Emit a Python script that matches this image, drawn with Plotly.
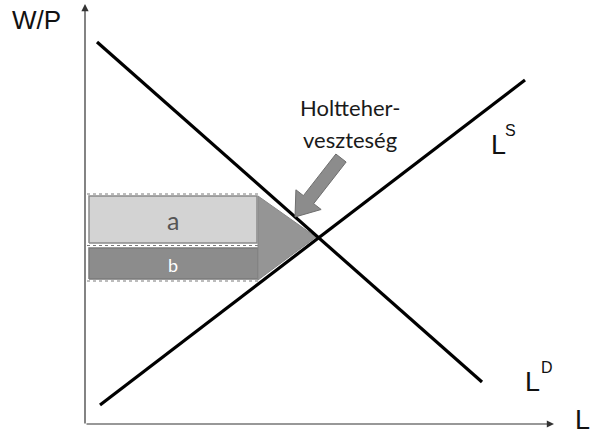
import math
import plotly.graph_objects as go

# Data (diagram units: x = labour L, y = real wage W/P)
demand_L = [12, 397]
demand_W = [382, 42]
supply_L = [15, 440]
supply_W = [19, 344]

# area a (light), area b (dark), deadweight-loss triangle
area_a_L = [4, 172, 172, 4, 4]
area_a_W = [181, 181, 228, 228, 181]
area_b_L = [4, 173, 173, 4, 4]
area_b_W = [145, 145, 176, 176, 145]
dwl_L = [173, 231, 173, 173]
dwl_W = [228, 187, 144, 228]

# arrow pointing to deadweight loss
arrow_from = (256, 266)
arrow_to = (210, 207)

fig = go.Figure()

# dashed guide lines around the areas
for yv in [230, 178.5, 143]:
    fig.add_trace(go.Scatter(x=[2, 175], y=[yv, yv], mode="lines",
                             line=dict(color="#7a7a7a", width=1, dash="dot"),
                             hoverinfo="skip", showlegend=False))

fig.add_trace(go.Scatter(x=area_a_L, y=area_a_W, fill="toself", mode="lines",
                         fillcolor="#d3d3d3", line=dict(color="#8a8a8a", width=1.5),
                         showlegend=False, hoverinfo="skip"))
fig.add_trace(go.Scatter(x=area_b_L, y=area_b_W, fill="toself", mode="lines",
                         fillcolor="#8c8c8c", line=dict(color="#7a7a7a", width=1.5),
                         showlegend=False, hoverinfo="skip"))
fig.add_trace(go.Scatter(x=dwl_L, y=dwl_W, fill="toself", mode="lines",
                         fillcolor="#959595", line=dict(color="#888888", width=1),
                         showlegend=False, hoverinfo="skip"))

# demand and supply curves
fig.add_trace(go.Scatter(x=demand_L, y=demand_W, mode="lines",
                         line=dict(color="black", width=3.2),
                         showlegend=False, hoverinfo="skip"))
fig.add_trace(go.Scatter(x=supply_L, y=supply_W, mode="lines",
                         line=dict(color="black", width=3.2),
                         showlegend=False, hoverinfo="skip"))

# block arrow polygon built from its endpoints
(x0, y0), (x1, y1) = arrow_from, arrow_to
dx, dy = x1 - x0, y1 - y0
ln = math.hypot(dx, dy)
ux, uy = dx / ln, dy / ln
px_, py_ = -uy, ux
shaft_w, head_w, head_l = 6.5, 16, 22
bx, by = x1 - ux * head_l, y1 - uy * head_l
poly = [
    (x0 + px_ * shaft_w, y0 + py_ * shaft_w),
    (bx + px_ * shaft_w, by + py_ * shaft_w),
    (bx + px_ * head_w, by + py_ * head_w),
    (x1, y1),
    (bx - px_ * head_w, by - py_ * head_w),
    (bx - px_ * shaft_w, by - py_ * shaft_w),
    (x0 - px_ * shaft_w, y0 - py_ * shaft_w),
    (x0 + px_ * shaft_w, y0 + py_ * shaft_w),
]
fig.add_trace(go.Scatter(x=[p[0] for p in poly], y=[p[1] for p in poly],
                         fill="toself", mode="lines", fillcolor="#8c8c8c",
                         line=dict(color="#6e6e6e", width=1),
                         showlegend=False, hoverinfo="skip"))

annotations = [
    # y axis with arrowhead
    dict(x=0, y=420, ax=0, ay=-1, xref="x", yref="y", axref="x", ayref="y",
         showarrow=True, arrowhead=2, arrowsize=1.2, arrowwidth=1.2, arrowcolor="#333", text=""),
    # x axis with arrowhead
    dict(x=469, y=0, ax=0, ay=0, xref="x", yref="y", axref="x", ayref="y",
         showarrow=True, arrowhead=2, arrowsize=1.2, arrowwidth=1.2, arrowcolor="#333", text=""),
]

labels = [
    (-49, 404, "W/P", 26, "#111", "Liberation Sans"),
    (88, 204, "a", 25, "#555555", "Lato"),
    (88, 159, "b", 18, "white", "Lato"),
    (265, 317, "Holtteher-", 22, "#1a1a1a", "Lato"),
    (265, 285, "veszteség", 22, "#1a1a1a", "Lato"),
    (413, 279, "L", 27, "#111", "Liberation Sans"),
    (425, 294, "S", 16, "#111", "Liberation Sans"),
    (447, 42, "L", 27, "#111", "Liberation Sans"),
    (462, 57, "D", 16, "#111", "Liberation Sans"),
    (497, 4, "L", 27, "#111", "Liberation Sans"),
]
for x, y, t, s, c, f in labels:
    annotations.append(dict(x=x, y=y, xref="x", yref="y", text=t, showarrow=False,
                            font=dict(size=s, color=c, family=f)))

fig.update_layout(
    width=590, height=435,
    margin=dict(l=0, r=0, t=0, b=0),
    paper_bgcolor="white", plot_bgcolor="white",
    xaxis=dict(range=[-85, 505], visible=False, fixedrange=True),
    yaxis=dict(range=[-11, 424], visible=False, fixedrange=True),
    annotations=annotations,
)

fig.write_html("out.html", config={"displayModeBar": False},
               post_script="document.body.style.margin='0';document.body.style.overflow='hidden';")
